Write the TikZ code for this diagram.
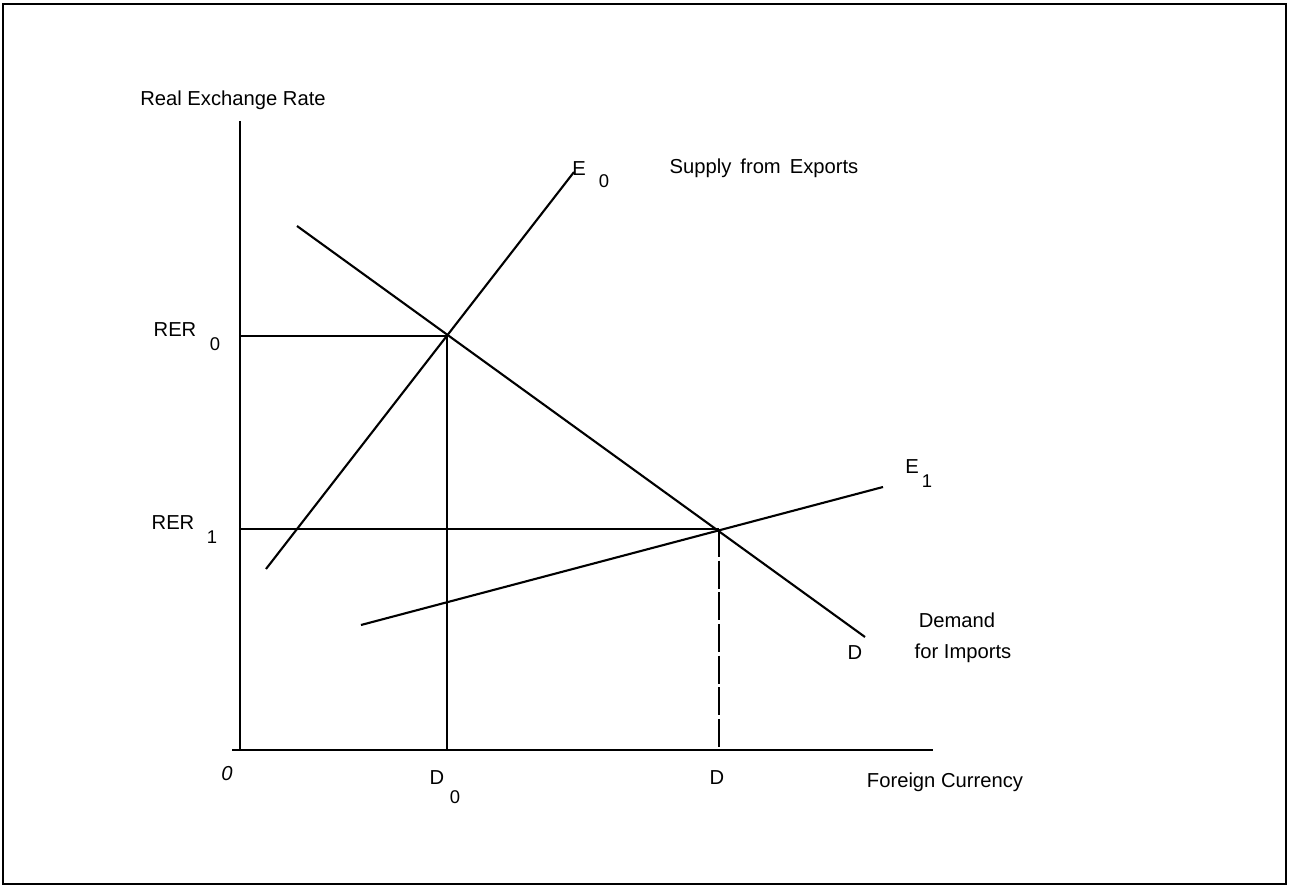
\documentclass[tikz,border=0pt]{standalone}
\usepackage{fontspec}
\setmainfont{Liberation Sans}
\usetikzlibrary{positioning}

\begin{document}
\begin{tikzpicture}[
    x=0.02cm, y=-0.02cm, font=\fontsize{11.5}{13}\selectfont,
    curve/.style={line width=1.2pt},
    guide/.style={line width=1.1pt},
    lbl/.style={inner sep=0pt},
    idx/.style={inner sep=0pt, font=\fontsize{10.5}{12}\selectfont},
  ]
  \useasboundingbox (0,0) rectangle (1289,888);
  \draw[line width=1.6pt] (3,4) rectangle (1286,884);
  % axes
  \coordinate (ytop) at (240,121);
  \coordinate (orig) at (240,750);
  \coordinate (xleft) at (232,750);
  \coordinate (xend) at (933,750);
  \draw[guide] (ytop) -- (orig);
  \draw[guide] (xleft) -- (xend);
  \node[lbl] (ylab) at (233,100) {Real Exchange Rate};
  \node[lbl] (xlab) at (945,782) {Foreign Currency};
  \node[lbl] (olab) at (227,774) {\textit{0}};
  % supply E0, supply E1, demand D
  \coordinate (e0a) at (266,569);
  \coordinate (e0b) at (574,172);
  \coordinate (e1a) at (361,625);
  \coordinate (e1b) at (883,487);
  \coordinate (da) at (297,226);
  \coordinate (db) at (865,637);
  \draw[curve] (e0a) -- (e0b);
  \draw[curve] (e1a) -- (e1b);
  \draw[curve] (da) -- (db);
  \node[lbl] (e0lab) at (579,169) {E};
  \node[idx] (e0idx) at (604,181) {0};
  \node[lbl] (supply) at (764,168) {Supply\, from\, Exports};
  \node[lbl] (e1lab) at (912,467) {E};
  \node[idx] (e1idx) at (927,481) {1};
  \node[lbl] (dlab) at (855,653) {D};
  \node[lbl] (demand) at (957,620) {Demand};
  \node[lbl] (imports) at (963,653) {for Imports};
  % equilibria
  \coordinate (eqA) at (447,336);
  \coordinate (eqB) at (719,529);
  \coordinate (rer0) at (240,336);
  \coordinate (rer1) at (240,529);
  \coordinate (dA) at (447,750);
  \coordinate (dB) at (719,750);
  \draw[guide] (rer0) -- (eqA) -- (dA);
  \draw[guide] (rer1) -- (eqB);
  \draw[guide, dash pattern=on 16pt off 2pt] (eqB) -- (dB);
  \node[lbl] (rer0lab) at (175,330) {RER};
  \node[idx] (rer0idx) at (215,344) {0};
  \node[lbl] (rer1lab) at (173,523) {RER};
  \node[idx] (rer1idx) at (212,537) {1};
  \node[lbl] (d0lab) at (437,778) {D};
  \node[idx] (d0idx) at (455,797) {0};
  \node[lbl] (d1lab) at (717,778) {D};
\end{tikzpicture}
\end{document}
